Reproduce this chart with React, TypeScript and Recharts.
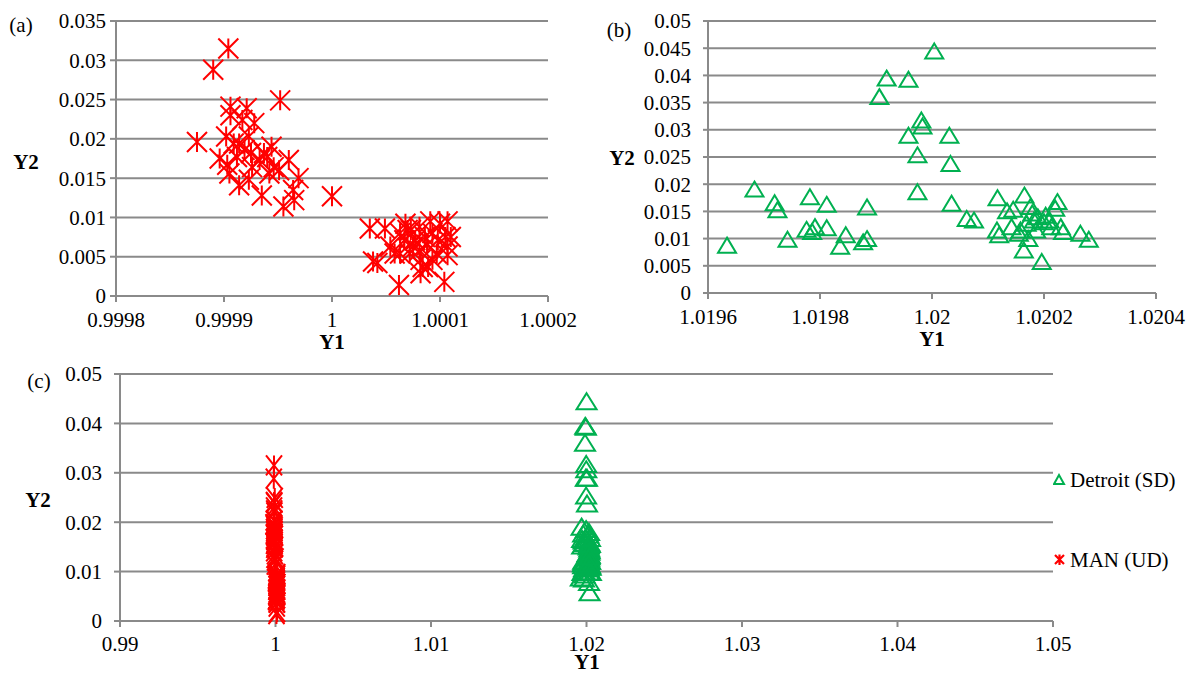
import React from 'react';
import { ScatterChart, Scatter, XAxis, YAxis, CartesianGrid } from 'recharts';

const FONT = "'Liberation Serif', 'Times New Roman', Tinos, serif";
const RED = '#FF0000';
const GREEN = '#00B050';
const GRID = '#8A8A8A';

// MAN (UD)
const manY1 = [
  0.999904, 0.99989, 0.999952, 0.999875, 0.999906, 0.999921, 0.999906, 0.999917, 0.999928, 0.999902,
  0.999914, 0.999923, 0.999896, 0.999919, 0.999944, 0.99994, 0.999933, 0.999905, 0.999914, 0.999935,
  0.999955, 0.999965, 0.999964, 0.999969, 0.99996, 0.999951, 0.999946, 0.999926, 0.999912, 0.999909,
  0.999925, 0.999937, 0.999903, 0.999923, 0.999942, 1.0,
  1.000035, 1.000049, 1.000038, 1.000042, 1.000062, 1.000104, 1.000082, 1.000054, 1.000058, 1.000068,
  1.000073, 1.000081, 1.000091, 1.0001, 1.000107, 1.000105, 1.000107, 1.000107, 1.000097, 1.000089,
  1.000084, 1.000075, 1.000072, 1.000067, 1.000077, 1.000086, 1.000093, 1.000098, 1.000081, 1.000063,
  1.00007, 1.000088, 1.000082, 1.000093, 1.000063, 1.00011,
];
const manY2 = [
  0.0315, 0.0288, 0.0249, 0.0196, 0.0241, 0.0239, 0.023, 0.0224, 0.022, 0.0203,
  0.0194, 0.0203, 0.0175, 0.0186, 0.019, 0.0177, 0.0173, 0.0156, 0.0141, 0.0128,
  0.0114, 0.0122, 0.0135, 0.015, 0.0173, 0.016, 0.0164, 0.0164, 0.0177, 0.0194,
  0.0182, 0.0182, 0.0167, 0.0148, 0.0156, 0.0127,
  0.0086, 0.0086, 0.0044, 0.0042, 0.0014, 0.0018, 0.0029, 0.0063, 0.0054, 0.0092,
  0.0084, 0.0088, 0.0095, 0.0092, 0.0095, 0.0075, 0.0063, 0.0052, 0.0054, 0.0037,
  0.0037, 0.0063, 0.0054, 0.0071, 0.0071, 0.0075, 0.008, 0.0071, 0.0058, 0.008,
  0.0084, 0.0065, 0.0046, 0.0046, 0.0054, 0.0075,
];

// Detroit (SD)
const detY1 = [
  1.019634, 1.019683, 1.019719, 1.019724, 1.019742, 1.019782, 1.019776, 1.019786, 1.019791, 1.019812,
  1.019812, 1.019836, 1.019846, 1.019877, 1.019884, 1.019884, 1.019906, 1.019919, 1.019958, 1.020004,
  1.019981, 1.019983, 1.019958, 1.020031, 1.019974, 1.020033, 1.019974, 1.020035, 1.020062, 1.020075,
  1.020117, 1.020116, 1.02012, 1.020134, 1.020145, 1.020142, 1.020155, 1.020165, 1.020164, 1.020172,
  1.020176, 1.020179, 1.020169, 1.020182, 1.020189, 1.020196, 1.020203, 1.02021, 1.02022, 1.020224,
  1.020213, 1.02023, 1.020234, 1.020265, 1.02028, 1.020186, 1.020158, 1.0202,
];
const detY2 = [
  0.0088, 0.0191, 0.0166, 0.0153, 0.0099, 0.0177, 0.0117, 0.0113, 0.0122, 0.0163,
  0.012, 0.0086, 0.0107, 0.0094, 0.01, 0.0158, 0.0361, 0.0395, 0.0393, 0.0445,
  0.0318, 0.0307, 0.029, 0.029, 0.0254, 0.0238, 0.0186, 0.0165, 0.0137, 0.0134,
  0.0175, 0.0116, 0.0107, 0.0151, 0.0154, 0.0122, 0.011, 0.018, 0.0079, 0.01,
  0.0159, 0.0147, 0.0128, 0.0134, 0.014, 0.0058, 0.0143, 0.0134, 0.0156, 0.0168,
  0.0122, 0.0122, 0.0113, 0.011, 0.0099, 0.0116, 0.0116, 0.0131,
];

const aXTicks = [0.9998, 0.9999, 1, 1.0001, 1.0002];
const aYTicks = [0, 0.005, 0.01, 0.015, 0.02, 0.025, 0.03, 0.035];
const bXTicks = [1.0196, 1.0198, 1.02, 1.0202, 1.0204];
const bYTicks = [0, 0.005, 0.01, 0.015, 0.02, 0.025, 0.03, 0.035, 0.04, 0.045, 0.05];
const cXTicks = [0.99, 1, 1.01, 1.02, 1.03, 1.04, 1.05];
const cYTicks = [0, 0.01, 0.02, 0.03, 0.04, 0.05];

const toPoints = (xs: number[], ys: number[]) => xs.map((x, i) => ({ x, y: ys[i] }));
const manData = toPoints(manY1, manY2);
const detData = toPoints(detY1, detY2);

const makeStar = (hw: number, hh: number, sw = 2) => (props: any) => {
  const { cx, cy } = props;
  if (cx == null || cy == null) return <g />;
  return (
    <path
      d={`M${cx - hw},${cy - hh}L${cx + hw},${cy + hh}M${cx - hw},${cy + hh}L${cx + hw},${cy - hh}M${cx},${cy - hh}L${cx},${cy + hh}`}
      stroke={RED}
      strokeWidth={sw}
      fill="none"
    />
  );
};

const makeTri = (hw: number, hh: number) => (props: any) => {
  const { cx, cy } = props;
  if (cx == null || cy == null) return <g />;
  return (
    <polygon
      points={`${cx},${cy - hh} ${cx + hw},${cy + hh} ${cx - hw},${cy + hh}`}
      stroke={GREEN}
      strokeWidth={2}
      fill="none"
      strokeLinejoin="miter"
    />
  );
};

const axisLine = { stroke: GRID, strokeWidth: 2 };
const tickStyle = { fill: '#000', fontSize: 21, fontFamily: FONT };

const txt = (s: string, x: number, y: number, bold = false) => (
  <div
    style={{
      position: 'absolute',
      left: x,
      top: y,
      transform: 'translate(-50%, -50%)',
      fontFamily: FONT,
      fontSize: 21,
      fontWeight: bold ? 'bold' : 'normal',
      lineHeight: '14px',
      whiteSpace: 'nowrap',
      color: '#000',
    }}
  >
    {s}
  </div>
);

export default function App() {
  return (
    <div style={{ position: 'absolute', left: 0, top: 0, width: 1193, height: 673, background: '#fff', overflow: 'hidden', fontFamily: FONT }}>
      {/* Panel (a) */}
      <div style={{ position: 'absolute', left: 0, top: 0 }}>
        <ScatterChart width={590} height={350} margin={{ top: 21, right: 42, bottom: 0, left: 0 }}>
          <CartesianGrid vertical={false} stroke={GRID} strokeWidth={2} strokeDasharray="" />
          <XAxis type="number" dataKey="x" domain={[0.9998, 1.0002]} ticks={aXTicks} height={54}
            axisLine={axisLine} tickLine={axisLine} tickSize={6} tickMargin={10} tick={tickStyle} interval={0} />
          <YAxis type="number" dataKey="y" domain={[0, 0.035]} ticks={aYTicks} width={116}
            axisLine={axisLine} tickLine={axisLine} tickSize={6} tickMargin={4} tick={tickStyle} interval={0} />
          <Scatter data={manData} shape={makeStar(10, 10)} isAnimationActive={false} />
        </ScatterChart>
      </div>
      {/* Panel (b) */}
      <div style={{ position: 'absolute', left: 590, top: 0 }}>
        <ScatterChart width={603} height={350} margin={{ top: 21, right: 37, bottom: 0, left: 0 }}>
          <CartesianGrid vertical={false} stroke={GRID} strokeWidth={2} strokeDasharray="" />
          <XAxis type="number" dataKey="x" domain={[1.0196, 1.0204]} ticks={bXTicks} height={57}
            axisLine={axisLine} tickLine={axisLine} tickSize={6} tickMargin={10} tick={tickStyle} interval={0} />
          <YAxis type="number" dataKey="y" domain={[0, 0.05]} ticks={bYTicks} width={118}
            axisLine={axisLine} tickLine={axisLine} tickSize={5} tickMargin={12} tick={tickStyle} interval={0} />
          <Scatter data={detData} shape={makeTri(9, 7.5)} isAnimationActive={false} />
        </ScatterChart>
      </div>
      {/* Panel (c) */}
      <div style={{ position: 'absolute', left: 0, top: 350 }}>
        <ScatterChart width={1193} height={323} margin={{ top: 24, right: 140, bottom: 0, left: 0 }}>
          <CartesianGrid vertical={false} stroke={GRID} strokeWidth={2} strokeDasharray="" />
          <XAxis type="number" dataKey="x" domain={[0.99, 1.05]} ticks={cXTicks} height={52}
            axisLine={axisLine} tickLine={axisLine} tickSize={6} tickMargin={9} tick={tickStyle} interval={0} />
          <YAxis type="number" dataKey="y" domain={[0, 0.05]} ticks={cYTicks} width={120}
            axisLine={axisLine} tickLine={axisLine} tickSize={6} tickMargin={12} tick={tickStyle} interval={0} />
          <Scatter name="MAN (UD)" data={manData} shape={makeStar(8, 10)} isAnimationActive={false} />
          <Scatter name="Detroit (SD)" data={detData} shape={makeTri(10, 8)} isAnimationActive={false} />
        </ScatterChart>
      </div>

      {/* Legend of (c) */}
      <svg style={{ position: 'absolute', left: 1053, top: 473 }} width={14} height={14}>
        <polygon points="6,2 11,11 1,11" stroke={GREEN} strokeWidth={2} fill="none" />
      </svg>
      <div style={{ position: 'absolute', left: 1070, top: 480, transform: 'translateY(-50%)', fontFamily: FONT, fontSize: 21, lineHeight: '15px', whiteSpace: 'nowrap' }}>Detroit (SD)</div>
      <svg style={{ position: 'absolute', left: 1053, top: 553 }} width={14} height={14}>
        <path d="M2,2L11,11M2,11L11,2M6.5,1.5L6.5,12" stroke={RED} strokeWidth={2.2} fill="none" />
      </svg>
      <div style={{ position: 'absolute', left: 1070, top: 560, transform: 'translateY(-50%)', fontFamily: FONT, fontSize: 21, lineHeight: '15px', whiteSpace: 'nowrap' }}>MAN (UD)</div>

      {/* Panel labels and axis titles */}
      {txt('(a)', 21, 25)}
      {txt('(b)', 619, 30)}
      {txt('(c)', 39, 381)}
      {txt('Y2', 26, 162, true)}
      {txt('Y2', 622, 158, true)}
      {txt('Y2', 38, 500, true)}
      {txt('Y1', 332, 342, true)}
      {txt('Y1', 932, 339, true)}
      {txt('Y1', 587, 662, true)}
    </div>
  );
}
